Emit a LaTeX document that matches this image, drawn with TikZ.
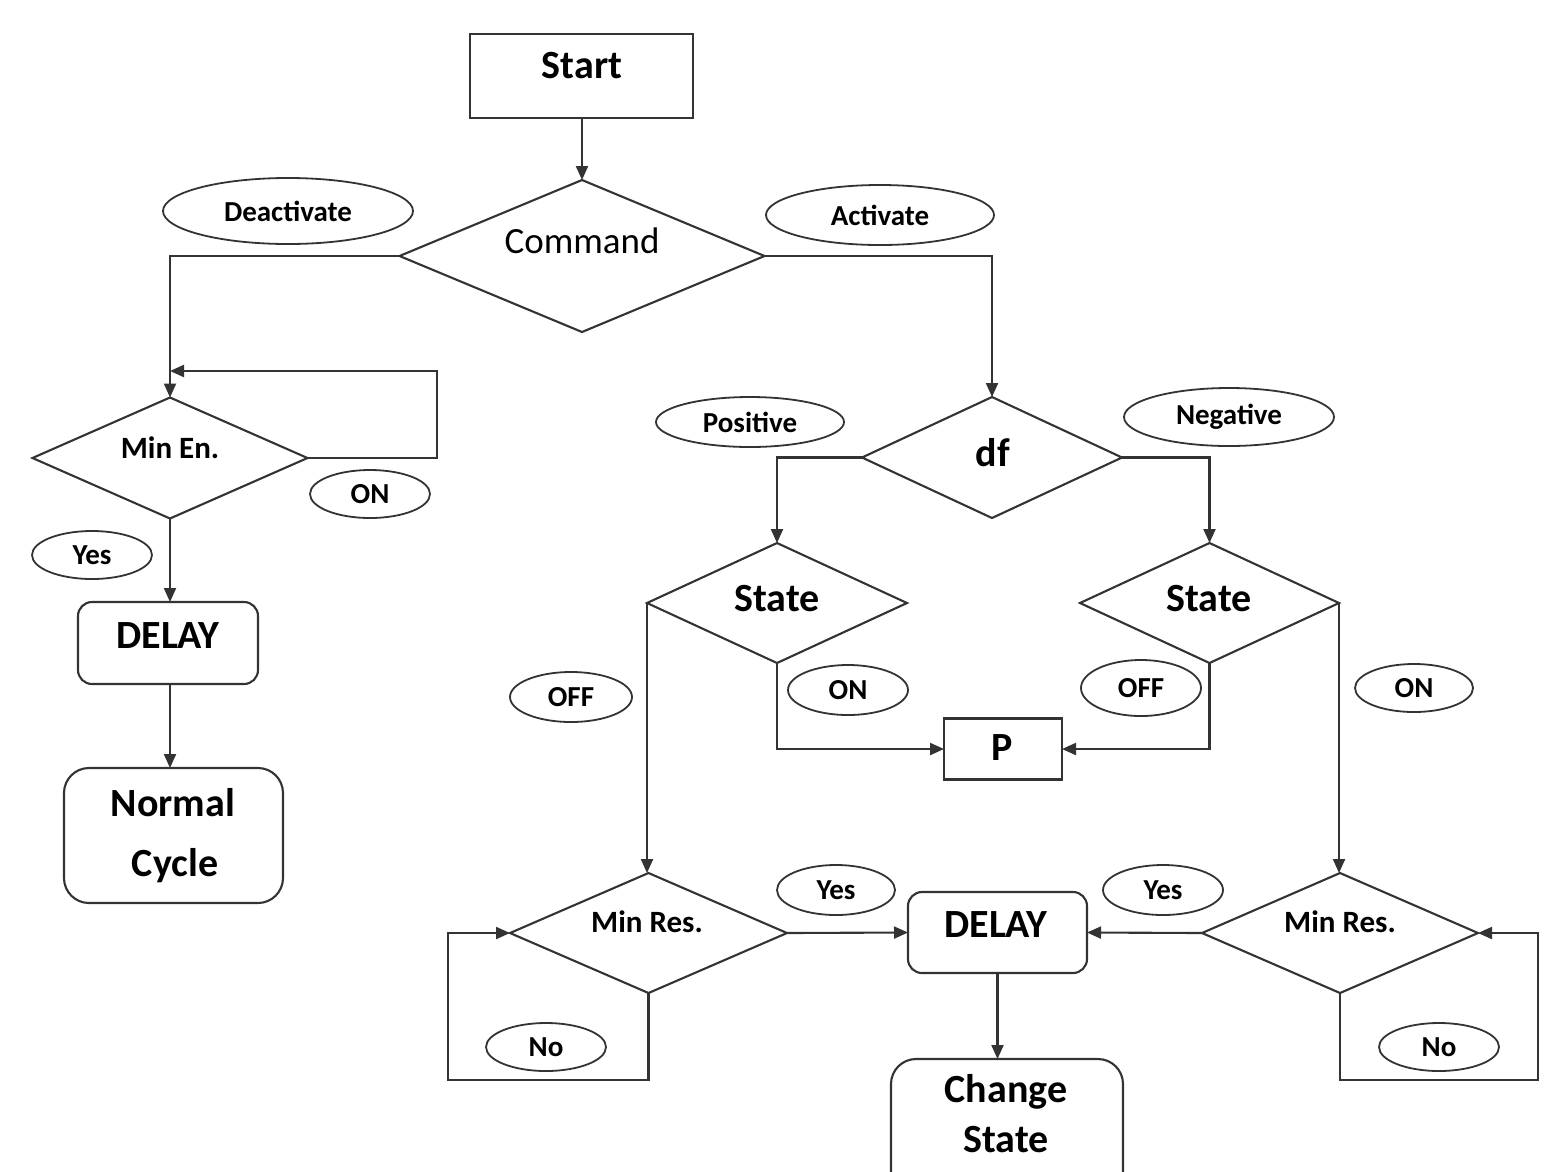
\documentclass[tikz,border=0pt]{standalone}
\usepackage{fontspec}
\setmainfont{Carlito}
\usetikzlibrary{shapes.geometric,arrows.meta}
\definecolor{lc}{HTML}{333333}
\tikzset{
  box/.style={draw=lc, line width=2.1pt, inner sep=0pt, outer sep=0pt},
  rbox/.style={box, rounded corners=14pt},
  dia/.style={box, diamond},
  ell/.style={draw=lc, line width=1.8pt, ellipse, inner sep=0pt, outer sep=0pt, font=\fontsize{29}{34}\selectfont\bfseries},
  big/.style={font=\fontsize{40}{48}\selectfont\bfseries, inner sep=0pt},
  mid/.style={font=\fontsize{31}{36}\selectfont\bfseries, inner sep=0pt},
  arr/.style={draw=lc, line width=2.1pt, -{Triangle[length=14pt,width=12pt]}},
  ln/.style={draw=lc, line width=2.1pt}
}
\begin{document}
\begin{tikzpicture}[x=1pt,y=-1pt]
\useasboundingbox (0,0) rectangle (1557,1171);
\clip (0,0) rectangle (1557,1171);
\fill[white] (0,0) rectangle (1557,1171);

% Start / Command
\node[box, minimum width=223, minimum height=84] (start) at (581.5,76) {};
\node[big] (startt) at (582,66) {Start};
\node[dia, minimum width=365, minimum height=152] (cmd) at (582,256) {};
\node[font=\fontsize{37}{42}\selectfont, inner sep=0pt] (cmdt) at (582,241) {Command};
\node[ell, minimum width=250, minimum height=66] (deact) at (288,211) {Deactivate};
\node[ell, minimum width=228, minimum height=60] (act) at (880,215) {Activate};

% Left branch
\node[dia, minimum width=275, minimum height=121] (minen) at (170,458) {};
\node[mid] (minent) at (170,448) {Min En.};
\node[ell, minimum width=120, minimum height=48] (on1) at (370,494) {ON};
\node[ell, minimum width=120, minimum height=48] (yes1) at (92,555) {Yes};
\node[rbox, minimum width=180, minimum height=82] (delay1) at (168,643) {};
\node[big] (delay1t) at (168,636) {DELAY};
\node[rbox, rounded corners=25pt, minimum width=219, minimum height=135] (normal) at (173.5,835.5) {};
\node[big] (normalt) at (173,803) {Normal};
\node[big] (cyclet) at (175,866) {Cycle};
\coordinate (loopA) at (170,371);
\coordinate (loopB) at (437,371);

% Right branch
\node[dia, minimum width=260, minimum height=121] (df) at (992,457.5) {};
\node[big] (dft) at (993,453) {df};
\node[ell, minimum width=188, minimum height=50] (pos) at (750,422) {Positive};
\node[ell, minimum width=210, minimum height=58] (neg) at (1229,417) {Negative};
\node[dia, minimum width=260, minimum height=120] (st1) at (777,603) {};
\node[big] (st1t) at (777,599) {State};
\node[dia, minimum width=259, minimum height=120] (st2) at (1209.5,603) {};
\node[big] (st2t) at (1209,599) {State};
\node[ell, minimum width=120, minimum height=50] (on2) at (848,690) {ON};
\node[ell, minimum width=122, minimum height=50] (off1) at (571,697) {OFF};
\node[ell, minimum width=120, minimum height=56] (off2) at (1141,688) {OFF};
\node[ell, minimum width=118, minimum height=48] (on3) at (1414,688) {ON};
\node[box, minimum width=118, minimum height=61] (p) at (1003,749) {};
\node[big] (pt) at (1002,748) {P};

\node[dia, minimum width=277, minimum height=120] (mr1) at (648.5,933) {};
\node[mid] (mr1t) at (647,922) {Min Res.};
\node[dia, minimum width=276, minimum height=120] (mr2) at (1340,933) {};
\node[mid] (mr2t) at (1340,922) {Min Res.};
\node[rbox, minimum width=179, minimum height=81] (delay2) at (997.5,932.5) {};
\node[big] (delay2t) at (996,925) {DELAY};
\node[ell, minimum width=118, minimum height=50] (yes2) at (836,890) {Yes};
\node[ell, minimum width=120, minimum height=50] (yes3) at (1163,890) {Yes};
\node[ell, minimum width=120, minimum height=48] (no1) at (546,1047) {No};
\node[ell, minimum width=120, minimum height=48] (no2) at (1439,1047) {No};
\node[rbox, rounded corners=25pt, minimum width=232, minimum height=141] (chg) at (1007,1129.5) {};
\node[big] (chgt1) at (1006,1092) {Change};
\node[big] (chgt2) at (1006,1140) {State};
\coordinate (lp1) at (448,1080);
\coordinate (lp2) at (1538,1080);

% Connectors
\draw[arr] (start.south -| cmd.north) -- (cmd.north);
\draw[arr] (cmd.west) -| (minen.north);
\draw[arr] (cmd.east) -| (df.north);
\draw[arr] (minen.east) -| (loopB) -- (loopA);
\draw[arr] (minen.south) -- (minen.south |- delay1.north);
\draw[arr] (minen.south |- delay1.south) -- (minen.south |- normal.north);
\draw[arr] (df.west) -| (st1.north);
\draw[arr] (df.east) -| (st2.north);
\draw[arr] (st1.south) |- (p.west);
\draw[arr] (st2.south) |- (p.east);
\draw[arr] (st1.west) -- (st1.west |- mr1.north);
\draw[arr] (st2.east) -- (st2.east |- mr2.north);
\draw[arr] (mr1.east) -- (delay2.west);
\draw[arr] (mr2.west) -- (delay2.east);
\draw[arr] (mr1.south) |- (lp1) |- (mr1.west);
\draw[arr] (mr2.south) |- (lp2) |- (mr2.east);
\draw[arr] (delay2.south) -- (delay2.south |- chg.north);
\end{tikzpicture}
\end{document}
